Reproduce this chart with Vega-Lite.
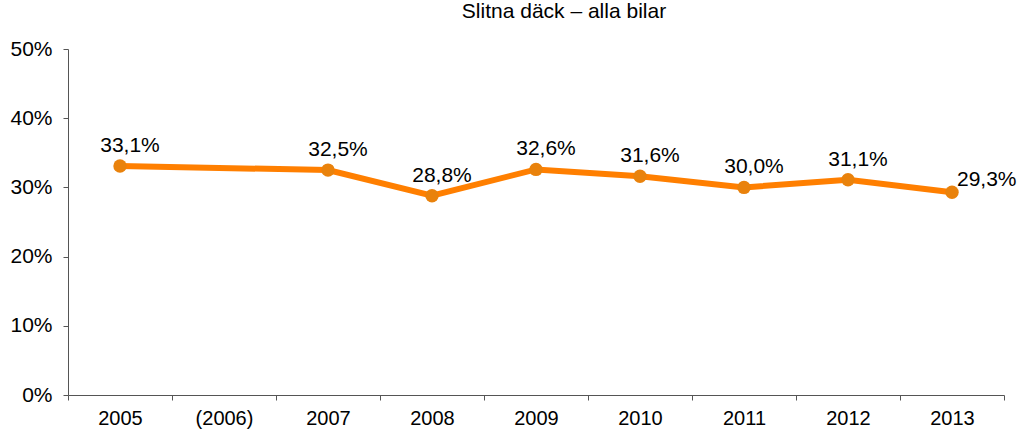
{
  "$schema": "https://vega.github.io/schema/vega-lite/v6.json",
  "autosize": "none",
  "width": 936,
  "height": 346,
  "padding": {"left": 68, "top": 49, "right": 14, "bottom": 34},
  "background": "white",
  "config": {
    "view": {"stroke": null},
    "font": "Liberation Sans",
    "locale": {"number": {"decimal": ",", "thousands": " ", "grouping": [3], "currency": ["", " kr"]}}
  },
  "title": {
    "text": "Slitna däck – alla bilar",
    "fontSize": 21,
    "fontWeight": "normal",
    "color": "black",
    "anchor": "middle",
    "dx": 28,
    "offset": 16
  },
  "data": {
    "values": [
      {"year": "2005", "value": 0.331},
      {"year": "2007", "value": 0.325},
      {"year": "2008", "value": 0.288},
      {"year": "2009", "value": 0.326},
      {"year": "2010", "value": 0.316},
      {"year": "2011", "value": 0.300},
      {"year": "2012", "value": 0.311},
      {"year": "2013", "value": 0.293}
    ]
  },
  "encoding": {
    "x": {
      "field": "year",
      "type": "ordinal",
      "scale": {
        "type": "band",
        "domain": ["2005", "(2006)", "2007", "2008", "2009", "2010", "2011", "2012", "2013"],
        "paddingInner": 0,
        "paddingOuter": 0
      },
      "axis": {
        "title": null,
        "labelAngle": 0,
        "labelFontSize": 20,
        "labelColor": "black",
        "labelPadding": 8,
        "domainColor": "#555555",
        "tickColor": "#555555",
        "tickSize": 5,
        "tickBand": "extent",
        "grid": false
      }
    },
    "y": {
      "field": "value",
      "type": "quantitative",
      "scale": {"domain": [0, 0.5], "nice": false},
      "axis": {
        "title": null,
        "format": ".0%",
        "values": [0, 0.1, 0.2, 0.3, 0.4, 0.5],
        "labelFontSize": 21,
        "labelColor": "black",
        "labelPadding": 11,
        "domainColor": "#555555",
        "tickColor": "#555555",
        "tickSize": 5,
        "grid": false
      }
    }
  },
  "layer": [
    {
      "mark": {"type": "line", "color": "#FF7F00", "strokeWidth": 6}
    },
    {
      "mark": {"type": "point", "filled": true, "opacity": 1, "color": "#E9820C", "size": 180, "shape": "circle"}
    },
    {
      "transform": [{"filter": "datum.year != '2013'"}],
      "mark": {"type": "text", "fontSize": 21, "color": "black", "dx": 10, "dy": -20, "align": "center", "baseline": "middle"},
      "encoding": {"text": {"field": "value", "type": "quantitative", "format": ".1%"}}
    },
    {
      "transform": [{"filter": "datum.year == '2013'"}],
      "mark": {"type": "text", "fontSize": 21, "color": "black", "dx": 5, "dy": -12, "align": "left", "baseline": "middle"},
      "encoding": {"text": {"field": "value", "type": "quantitative", "format": ".1%"}}
    }
  ]
}
